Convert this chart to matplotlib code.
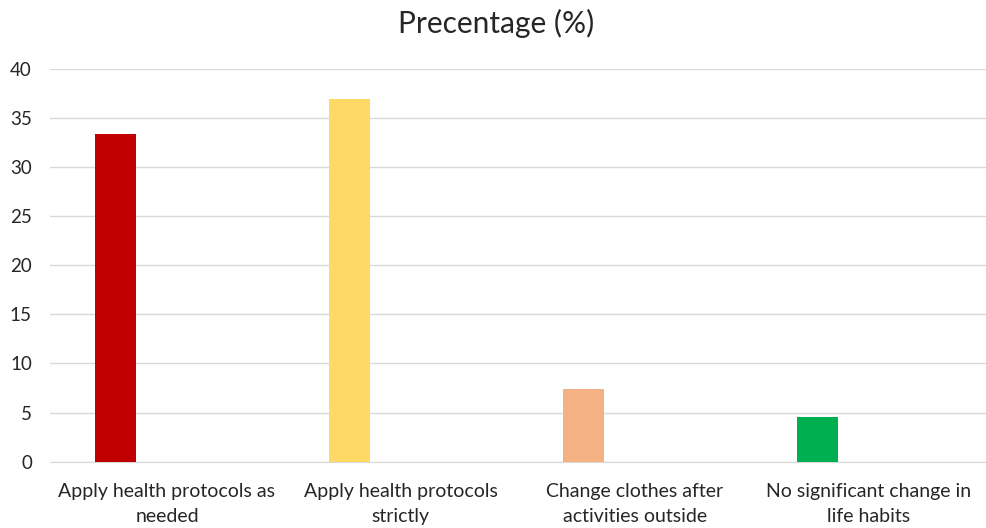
import numpy as np
import matplotlib.pyplot as plt

# Survey responses: change in daily habits
categories = [
    "Apply health protocols as\nneeded",
    "Apply health protocols\nstrictly",
    "Change clothes after\nactivities outside",
    "No significant change in\nlife habits",
]
percentages = [33.3, 36.9, 7.4, 4.5]
bar_colors = ["#C00000", "#FFD966", "#F4B183", "#00B050"]
y_ticks = [0, 5, 10, 15, 20, 25, 30, 35, 40]

plt.rcParams['font.family'] = ['Lato', 'DejaVu Sans']

fig = plt.figure(figsize=(9.86, 5.28), dpi=100)
ax = fig.add_axes([0.0507, 0.1256, 0.949, 0.7444])

x = np.arange(len(categories))
# bars sit on the left side of each category slot
ax.bar(x - 0.22, percentages, width=0.175, color=bar_colors, zorder=3)

ax.set_xlim(-0.5, len(categories) - 0.5)
ax.set_ylim(0, 40)
ax.set_yticks(y_ticks)
ax.set_xticks(x)
ax.set_xticklabels(categories, fontsize=14, color="#262626", linespacing=1.6)
ax.tick_params(axis='y', labelsize=13.5, labelcolor="#262626", length=0, pad=13)
ax.tick_params(axis='x', length=0, pad=15)

ax.grid(axis='y', color="#d9d9d9", linewidth=1, zorder=0)
for s in ['top', 'right', 'left']:
    ax.spines[s].set_visible(False)
ax.spines['bottom'].set_color("#d9d9d9")

fig.text(0.503, 0.955, "Precentage (%)", ha='center', va='center', fontsize=21.5, color="#262626")

fig.savefig("out.png", dpi=100)
